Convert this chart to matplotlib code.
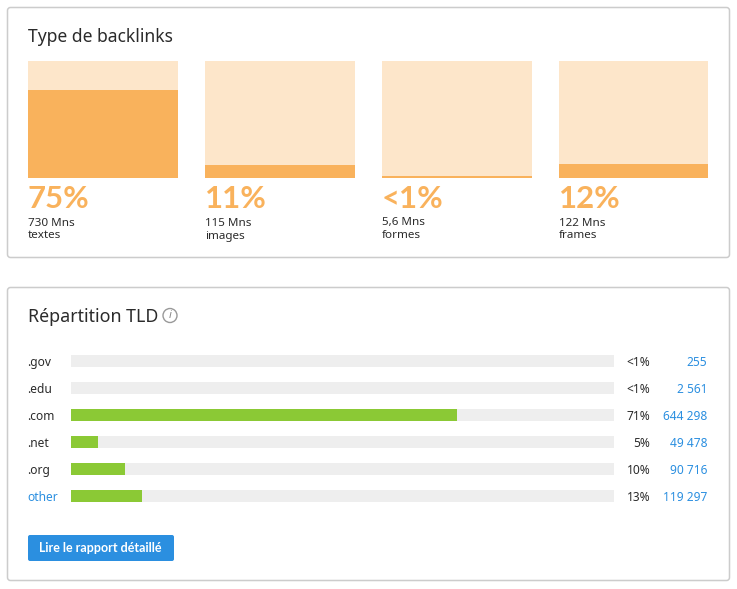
import matplotlib
matplotlib.use("Agg")
import matplotlib.pyplot as plt
from matplotlib.patches import FancyBboxPatch, Circle

plt.rcParams['font.family'] = ['Noto Sans', 'DejaVu Sans']
BOLD_FONT = ['Lato', 'Roboto', 'DejaVu Sans']

# Data
type_percents = [75, 11, 1.5, 12]
type_percent_labels = ['75%', '11%', '<1%', '12%']
type_counts = ['730 Mns', '115 Mns', '5,6 Mns', '122 Mns']
type_names = ['textes', 'images', 'formes', 'frames']
tld_names = ['.gov', '.edu', '.com', '.net', '.org', 'other']
tld_percents = [0, 0, 71, 5, 10, 13]
tld_percent_labels = ['<1%', '<1%', '71%', '5%', '10%', '13%']
tld_counts = ['255', '2 561', '644 298', '49 478', '90 716', '119 297']

W, H = 737, 589
ORANGE, PALE = '#f9b25c', '#fde6ca'
GREEN, TRACK = '#8bc935', '#eeeeee'
BLUE, DARK = '#2b8fe0', '#2b2b2b'

fig = plt.figure(figsize=(W / 100, H / 100), dpi=100, facecolor='white')

def px_axes(x0, y0, x1, y1):
    ax = fig.add_axes([x0 / W, 1 - y1 / H, (x1 - x0) / W, (y1 - y0) / H])
    ax.axis('off')
    return ax

bg = px_axes(0, 0, W, H)
bg.set_xlim(0, W)
bg.set_ylim(H, 0)

def round_box(x0, y0, x1, y1, r, **kw):
    bg.add_patch(FancyBboxPatch((x0 + r, y0 + r), x1 - x0 - 2 * r, y1 - y0 - 2 * r,
                                boxstyle=f'round,pad={r},rounding_size={r}', **kw))

for y0, y1 in [(7, 257.5), (287, 580.5)]:
    round_box(7.5, y0 + .5, 729.5, y1, 3, fc='white', ec='#cccccc', lw=1.1)

bg.text(28, 37, 'Type de backlinks', fontsize=12.6, color=DARK, va='center')
bg.text(28, 317, 'Répartition TLD', fontsize=12.8, color=DARK, va='center')
bg.add_patch(Circle((170, 315.5), 7, fc='white', ec='#999999', lw=1))
bg.text(170, 316, 'i', fontsize=8, color='#888888', ha='center', va='center', style='italic')

# Type de backlinks
lefts = [28, 205, 382, 559]
widths = [150, 150, 150, 149]
for left, w, v, pl, cnt, name in zip(lefts, widths, type_percents, type_percent_labels, type_counts, type_names):
    ax = px_axes(left, 61, left + w, 178)
    ax.set_xlim(0, 1)
    ax.set_ylim(0, 100)
    ax.bar([0.5], [100], width=1, color=PALE)
    ax.bar([0.5], [v], width=1, color=ORANGE)
    bg.text(left, 199.5, pl, fontsize=22.4, fontweight='bold', family=BOLD_FONT, color=ORANGE, va='center')
    bg.text(left, 223, cnt, fontsize=8.4, color=DARK, va='center')
    bg.text(left, 236, name, fontsize=8.4, color=DARK, va='center')

# TLD
ax = px_axes(71, 347.5, 614, 509.5)
ax.set_xlim(0, 100)
ax.set_ylim(5.5, -0.5)
rows = list(range(len(tld_names)))
ax.barh(rows, [100] * 6, height=12 / 27, color=TRACK)
ax.barh(rows, tld_percents, height=12 / 27, color=GREEN)
for i, (n, pl, c) in enumerate(zip(tld_names, tld_percent_labels, tld_counts)):
    y = 362.5 + 27 * i
    bg.text(27.5, y, n, fontsize=8.6, color=BLUE if n == 'other' else DARK, va='center')
    bg.text(650.5, y, pl, fontsize=8.6, color=DARK, va='center', ha='right')
    bg.text(707.5, y, c, fontsize=8.6, color=BLUE, va='center', ha='right')

round_box(28, 535, 174, 561, 2, fc=BLUE, ec='none')
bg.text(100.5, 548, 'Lire le rapport détaillé', fontsize=9, fontweight='bold', family=BOLD_FONT, color='white',
        ha='center', va='center')

fig.savefig('out.png', dpi=100)
